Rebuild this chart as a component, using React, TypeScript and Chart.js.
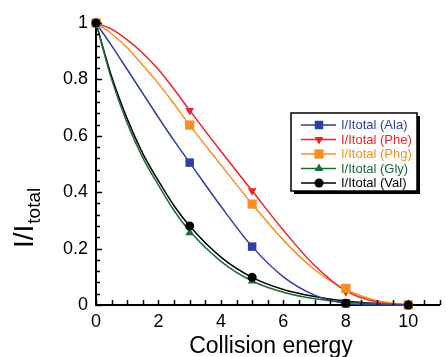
import React, { useEffect, useRef } from "react";
import { Chart, registerables } from "chart.js";
Chart.register(...registerables);

// Measured points (markers)
const markerX = [0, 3, 5, 8, 10];
const alaPts = [1, 0.505, 0.207, 0.006, 0];
const phePts = [1, 0.69, 0.405, 0.047, 0];
const phgPts = [1, 0.638, 0.358, 0.059, 0];
const glyPts = [1, 0.256, 0.085, 0.004, 0];
const valPts = [1, 0.28, 0.098, 0.006, 0];

// Fitted curves
const curveX = [0, 0.5, 1, 1.5, 2, 2.5, 3, 4, 5, 6, 7, 8, 9, 10];
const alaCurve = [1, 0.92, 0.835, 0.75, 0.665, 0.583, 0.505, 0.35, 0.207, 0.1, 0.035, 0.005, 0, 0];
const pheCurve = [1, 0.978, 0.94, 0.893, 0.835, 0.765, 0.69, 0.545, 0.405, 0.265, 0.14, 0.05, 0.01, 0];
const phgCurve = [1, 0.962, 0.912, 0.85, 0.785, 0.713, 0.638, 0.497, 0.358, 0.23, 0.125, 0.055, 0.015, 0];
const glyCurve = [1, 0.8, 0.645, 0.522, 0.425, 0.335, 0.262, 0.155, 0.085, 0.045, 0.022, 0.01, 0.004, 0];
const valCurve = [1, 0.81, 0.66, 0.537, 0.44, 0.352, 0.28, 0.17, 0.098, 0.055, 0.03, 0.014, 0.005, 0];

const seriesLabels = ["I/Itotal (Ala)", "I/Itotal (Phe)", "I/Itotal (Phg)", "I/Itotal (Gly)", "I/Itotal (Val)"];
const seriesColors = ["#2f3fa3", "#ee2228", "#f7901e", "#1b6b36", "#000000"];

const xTickValues = [0, 2, 4, 6, 8, 10];
const yTickValues = [0, 0.2, 0.4, 0.6, 0.8, 1];

const FONT = "'Liberation Sans', Arial, Helvetica, sans-serif";

const markerStyles = [
  { pointStyle: "rect", radius: 6, rotation: 0 },
  { pointStyle: "triangle", radius: 5, rotation: 180 },
  { pointStyle: "rect", radius: 6.5, rotation: 0 },
  { pointStyle: "triangle", radius: 5, rotation: 0 },
  { pointStyle: "circle", radius: 4.5, rotation: 0 },
];

const tickPlugin = {
  id: "inTicks",
  afterDraw(chart: any) {
    const { ctx, chartArea, scales } = chart;
    const xs = scales.x;
    const ys = scales.y;
    ctx.save();
    ctx.strokeStyle = "#000";
    ctx.lineWidth = 1.5;
    ctx.beginPath();
    for (let i = 0; i <= 22; i++) {
      const v = i * 0.5;
      const px = Math.round(xs.getPixelForValue(v)) + 0.5;
      ctx.moveTo(px, chartArea.bottom);
      ctx.lineTo(px, chartArea.bottom - 5);
    }
    for (let i = 0; i <= 25; i++) {
      const v = i * 0.04;
      const py = Math.round(ys.getPixelForValue(v)) + 0.5;
      const len = i % 5 === 0 ? 6 : 4;
      ctx.moveTo(chartArea.left, py);
      ctx.lineTo(chartArea.left + len, py);
    }
    ctx.stroke();
    ctx.restore();
  },
};

const legendPlugin = {
  id: "boxLegend",
  afterDraw(chart: any) {
    const { ctx } = chart;
    const x0 = 291, y0 = 113, w = 126, h = 78;
    ctx.save();
    ctx.fillStyle = "#000";
    ctx.fillRect(x0 + 3, y0 + 3, w, h);
    ctx.fillStyle = "#fff";
    ctx.fillRect(x0, y0, w, h);
    ctx.strokeStyle = "#000";
    ctx.lineWidth = 1.5;
    ctx.strokeRect(x0, y0, w, h);
    const rowY = [125, 139.5, 154, 168.5, 183];
    for (let i = 0; i < seriesLabels.length; i++) {
      const y = rowY[i];
      ctx.strokeStyle = seriesColors[i];
      ctx.lineWidth = 1.5;
      ctx.beginPath();
      ctx.moveTo(301, y);
      ctx.lineTo(336, y);
      ctx.stroke();
      const ms = markerStyles[i];
      ctx.fillStyle = seriesColors[i];
      ctx.save();
      ctx.translate(319, y);
      ctx.rotate((ms.rotation * Math.PI) / 180);
      ctx.beginPath();
      const r = ms.radius;
      if (ms.pointStyle === "rect") {
        const s = r * Math.SQRT1_2;
        ctx.rect(-s, -s, 2 * s, 2 * s);
      } else if (ms.pointStyle === "triangle") {
        ctx.moveTo(0, -r);
        ctx.lineTo(r * Math.cos(Math.PI / 6), r * 0.5);
        ctx.lineTo(-r * Math.cos(Math.PI / 6), r * 0.5);
        ctx.closePath();
      } else {
        ctx.arc(0, 0, r, 0, Math.PI * 2);
      }
      ctx.fill();
      ctx.restore();
      ctx.fillStyle = seriesColors[i];
      ctx.font = `13px ${FONT}`;
      ctx.textAlign = "left";
      ctx.textBaseline = "middle";
      ctx.fillText(seriesLabels[i], 341, y + 0.5);
    }
    ctx.restore();
  },
};

const yTitlePlugin = {
  id: "yTitle",
  afterDraw(chart: any) {
    const { ctx } = chart;
    ctx.save();
    ctx.translate(33, 248);
    ctx.rotate(-Math.PI / 2);
    ctx.fillStyle = "#000";
    ctx.textAlign = "left";
    ctx.textBaseline = "alphabetic";
    ctx.font = `28px ${FONT}`;
    ctx.fillText("I/I", 0, 0);
    const w = ctx.measureText("I/I").width;
    ctx.font = `19px ${FONT}`;
    ctx.fillText("total", w + 1, 7);
    ctx.restore();
  },
};

export default function App() {
  const ref = useRef<HTMLCanvasElement | null>(null);
  useEffect(() => {
    if (!ref.current) return;
    const curves = [alaCurve, pheCurve, phgCurve, glyCurve, valCurve];
    const pts = [alaPts, phePts, phgPts, glyPts, valPts];
    const datasets: any[] = [];
    for (let i = 0; i < 5; i++) {
      datasets.push({
        label: seriesLabels[i] + " fit",
        data: curveX.map((x, j) => ({ x, y: curves[i][j] })),
        borderColor: seriesColors[i],
        borderWidth: 1.5,
        pointRadius: 0,
        showLine: true,
        cubicInterpolationMode: "monotone",
        fill: false,
        clip: false,
        order: 10 + i,
      });
    }
    for (let i = 0; i < 5; i++) {
      const ms = markerStyles[i];
      datasets.push({
        label: seriesLabels[i],
        data: markerX.map((x, j) => ({ x, y: pts[i][j] })),
        showLine: false,
        pointStyle: ms.pointStyle,
        pointRadius: ms.radius,
        pointRotation: ms.rotation,
        pointBackgroundColor: seriesColors[i],
        pointBorderColor: seriesColors[i],
        pointBorderWidth: 0,
        clip: false,
        order: 4 - i,
      });
    }
    const chart = new Chart(ref.current, {
      type: "line",
      data: { datasets },
      options: {
        animation: false,
        responsive: false,
        layout: { padding: { top: 23, right: 1, left: 0, bottom: 0 } },
        plugins: { legend: { display: false }, tooltip: { enabled: false } },
        scales: {
          x: {
            type: "linear",
            min: 0,
            max: 11,
            afterBuildTicks: (s: any) => { s.ticks = xTickValues.map((v) => ({ value: v })); },
            afterFit: (s: any) => { s.height = 52; },
            grid: { display: true, drawOnChartArea: false, drawTicks: false },
            border: { display: true, color: "#000", width: 2 },
            ticks: { color: "#000", font: { family: FONT, size: 18 }, padding: 6, maxRotation: 0, callback: (v: any) => String(v) },
          },
          y: {
            type: "linear",
            min: 0,
            max: 1,
            afterBuildTicks: (s: any) => { s.ticks = yTickValues.map((v) => ({ value: v })); },
            afterFit: (s: any) => { s.width = 96; },
            grid: { display: true, drawOnChartArea: false, drawTicks: false },
            border: { display: true, color: "#000", width: 2 },
            ticks: { color: "#000", font: { family: FONT, size: 18 }, padding: 8, callback: (v: any) => String(v) },
            title: { display: false },
          },
        },
      },
      plugins: [tickPlugin, legendPlugin, yTitlePlugin],
    } as any);
    return () => chart.destroy();
  }, []);
  return (
    <div style={{ position: "absolute", left: 0, top: 0, width: 446, height: 357, background: "#fff" }}>
      <canvas ref={ref} width={446} height={357} style={{ display: "block" }} />
      <div style={{ position: "absolute", left: 96, width: 350, top: 334, textAlign: "center", font: `23px ${FONT}`, color: "#000", lineHeight: "23px" }}>
        Collision energy
      </div>
    </div>
  );
}
